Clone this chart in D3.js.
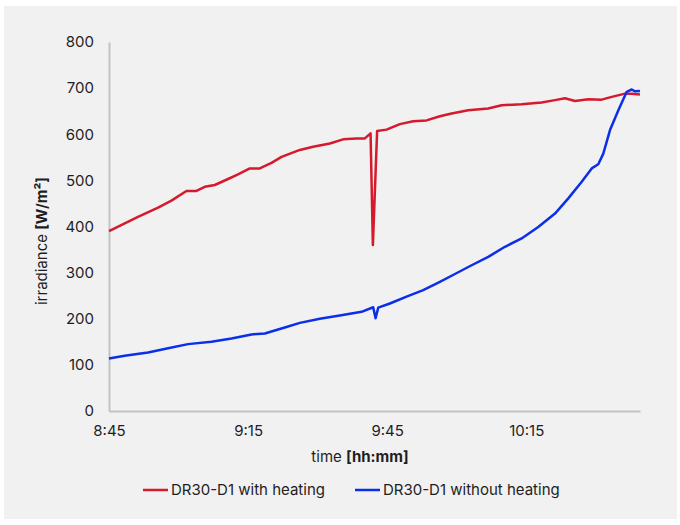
<!DOCTYPE html>
<html>
<head>
<meta charset="utf-8">
<script src="https://cdn.jsdelivr.net/npm/d3@7"></script>
<style>
  body { margin: 0; background: #fff; }
  svg { display: block; font-family: Inter, "Noto Sans", sans-serif; }
</style>
</head>
<body>
<div id="chart"></div>
<script>
// time ticks on the x axis
const tickLabels = ['8:45', '9:15', '9:45', '10:15'];
const yTicks = [0, 100, 200, 300, 400, 500, 600, 700, 800];

// DR30-D1 with heating
const heatTimes = ['8:45:00', '8:51:15', '8:55:35', '8:58:28', '9:01:42', '9:03:52', '9:05:39', '9:07:49',
  '9:10:41', '9:12:50', '9:15:22', '9:17:31', '9:20:03', '9:22:13', '9:26:10', '9:29:02', '9:32:38',
  '9:35:30', '9:38:24', '9:40:11', '9:41:25', '9:41:55', '9:42:50', '9:44:52', '9:47:44', '9:50:37',
  '9:53:30', '9:56:22', '9:58:54', '10:02:29', '10:06:48', '10:09:41', '10:14:00', '10:18:19',
  '10:21:12', '10:23:21', '10:25:31', '10:28:23', '10:31:16', '10:33:26', '10:36:18', '10:37:45', '10:39:32'];
const heatValues = [390, 421, 441, 456, 477, 477, 486, 490, 503, 513, 526, 526, 538, 551, 566, 573, 580,
  589, 591, 591, 602, 360, 607, 610, 622, 628, 630, 639, 645, 652, 656, 663, 665, 669,
  674, 678, 672, 676, 675, 681, 688, 688, 686];

// DR30-D1 without heating
const noHeatTimes = ['8:45:00', '8:48:23', '8:53:25', '8:57:44', '9:02:03', '9:07:06', '9:11:25', '9:15:44',
  '9:18:36', '9:22:55', '9:26:10', '9:30:28', '9:34:47', '9:39:29', '9:41:59', '9:42:30', '9:43:04',
  '9:45:35', '9:49:11', '9:52:46', '9:56:22', '9:59:37', '10:03:13', '10:06:48', '10:10:24', '10:14:00',
  '10:17:35', '10:21:12', '10:24:04', '10:26:58', '10:29:07', '10:30:32', '10:31:37', '10:33:04',
  '10:34:52', '10:36:40', '10:37:45', '10:38:28', '10:39:32'];
const noHeatValues = [114, 120, 127, 136, 145, 150, 157, 166, 168, 181, 191, 200, 207, 215, 225, 201, 224,
  233, 248, 262, 280, 297, 316, 334, 356, 374, 399, 428, 461, 497, 526, 535, 558, 609,
  652, 692, 697, 693, 694];

const width = 680, height = 525;
const margin = { top: 42, right: 40, bottom: 114, left: 109 };

const svg = d3.select('#chart')
  .append('svg')
  .attr('width', width)
  .attr('height', height);

// grey panel
svg.append('rect')
  .attr('x', 4).attr('y', 6)
  .attr('width', 673).attr('height', 513)
  .attr('fill', '#f1f1f1');

const parseTime = d3.timeParse('%H:%M:%S');
const parseTick = d3.timeParse('%H:%M');

const xScale = d3.scaleTime()
  .domain([parseTime('8:45:00'), parseTime('10:39:32')])
  .range([margin.left, width - margin.right]);

const yScale = d3.scaleLinear()
  .domain([0, 800])
  .range([height - margin.bottom, margin.top]);

// axes
const xAxis = d3.axisBottom(xScale)
  .tickValues(tickLabels.map(parseTick))
  .tickFormat(d3.timeFormat('%-H:%M'))
  .tickSize(0)
  .tickPadding(14);

const yAxis = d3.axisLeft(yScale)
  .tickValues(yTicks)
  .tickSize(0)
  .tickPadding(15);

const gx = svg.append('g')
  .attr('transform', `translate(0,${height - margin.bottom})`)
  .call(xAxis);

const gy = svg.append('g')
  .attr('transform', `translate(${margin.left},0)`)
  .call(yAxis);

[gx, gy].forEach(g => {
  g.select('.domain').attr('stroke', '#c3c3c3').attr('stroke-width', 2);
  g.selectAll('text')
    .style('font-size', '15px')
    .style('font-family', 'Inter, "Noto Sans", sans-serif')
    .attr('fill', '#1e1e1e');
});

// lines
const line = d3.line()
  .x(d => xScale(d.t))
  .y(d => yScale(d.v));

const series = [
  { name: 'DR30-D1 with heating', color: '#d41a2c', times: heatTimes, values: heatValues },
  { name: 'DR30-D1 without heating', color: '#0b2fe8', times: noHeatTimes, values: noHeatValues }
];

series.forEach(s => {
  const pts = s.times.map((t, i) => ({ t: parseTime(t), v: s.values[i] }));
  svg.append('path')
    .datum(pts)
    .attr('fill', 'none')
    .attr('stroke', s.color)
    .attr('stroke-width', 2.5)
    .attr('stroke-linejoin', 'round')
    .attr('d', line);
});

// axis titles
const yTitle = svg.append('text')
  .attr('transform', `translate(47,241) rotate(-90)`)
  .attr('text-anchor', 'middle')
  .style('font-size', '15px')
  .attr('fill', '#1e1e1e');
yTitle.append('tspan').text('irradiance ');
yTitle.append('tspan').style('font-weight', 'bold').text('[W/m²]');

const xTitle = svg.append('text')
  .attr('x', 360).attr('y', 462)
  .attr('text-anchor', 'middle')
  .style('font-size', '15px')
  .attr('fill', '#1e1e1e');
xTitle.append('tspan').text('time ');
xTitle.append('tspan').style('font-weight', 'bold').text('[hh:mm]');

// legend
const legendX = [143, 355];
series.forEach((s, i) => {
  const g = svg.append('g').attr('transform', `translate(${legendX[i]},490)`);
  g.append('line')
    .attr('x1', 0).attr('x2', 25)
    .attr('stroke', s.color)
    .attr('stroke-width', 2.5);
  g.append('text')
    .attr('x', 28).attr('y', 5)
    .style('font-size', '15px')
    .attr('fill', '#1e1e1e')
    .text(s.name);
});
</script>
</body>
</html>
